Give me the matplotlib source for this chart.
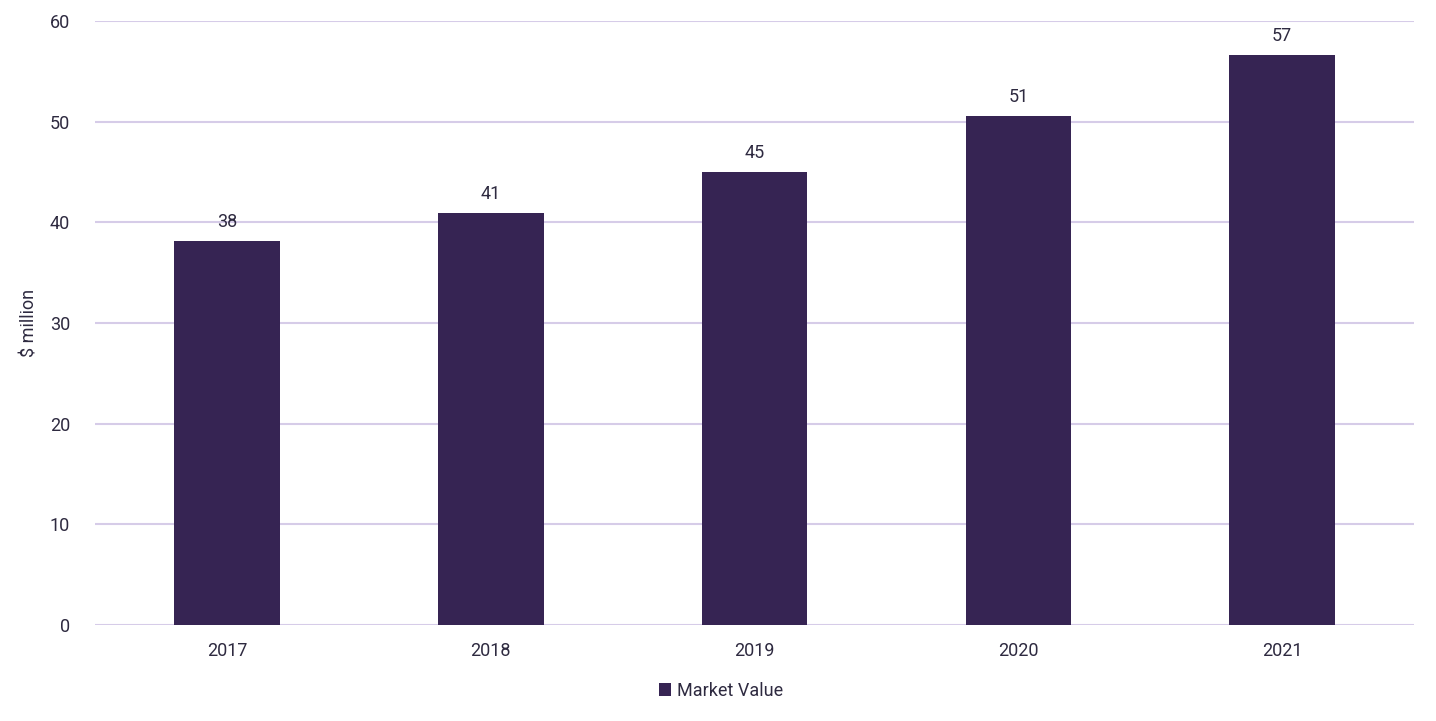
import matplotlib
matplotlib.use('Agg')
import matplotlib.pyplot as plt
import numpy as np

# data
years = ['2017', '2018', '2019', '2020', '2021']
market_value = [38.1, 40.9, 45.0, 50.6, 56.6]
value_labels = ['38', '41', '45', '51', '57']

bar_color = '#362453'
grid_color = '#d6cce8'
text_color = '#2e2a40'

plt.rcParams['font.family'] = ['Roboto', 'DejaVu Sans']

fig = plt.figure(figsize=(14.36, 7.21), dpi=100)
ax = fig.add_axes([0.0662, 0.1331, 0.9185, 0.8378])

x = np.arange(len(years))
bars = ax.bar(x, market_value, width=0.4, color=bar_color, label='Market Value', zorder=3)

for b, lab in zip(bars, value_labels):
    ax.text(b.get_x() + b.get_width() / 2, b.get_height() + 1.0, lab,
            ha='center', va='bottom', fontsize=13, color=text_color, zorder=4)

ax.set_xlim(-0.5, len(years) - 0.5)
ax.set_ylim(0, 60)
ax.set_yticks(range(0, 61, 10))
ax.set_xticks(x)
ax.set_xticklabels(years)
ax.tick_params(axis='both', length=0, labelsize=13, labelcolor=text_color)
ax.tick_params(axis='y', pad=18)
ax.tick_params(axis='x', pad=12)
ax.grid(axis='y', color=grid_color, linewidth=1.5, zorder=0)
for s in ax.spines.values():
    s.set_visible(False)
ax.set_ylabel('$ million', fontsize=13, color=text_color, labelpad=8)

fig.legend(*ax.get_legend_handles_labels(), loc='center',
           bbox_to_anchor=(0.502, 0.042), frameon=False,
           fontsize=13, labelcolor=text_color, handlelength=0.7, handleheight=0.7,
           handletextpad=0.3)

fig.savefig('out.png', dpi=100)
